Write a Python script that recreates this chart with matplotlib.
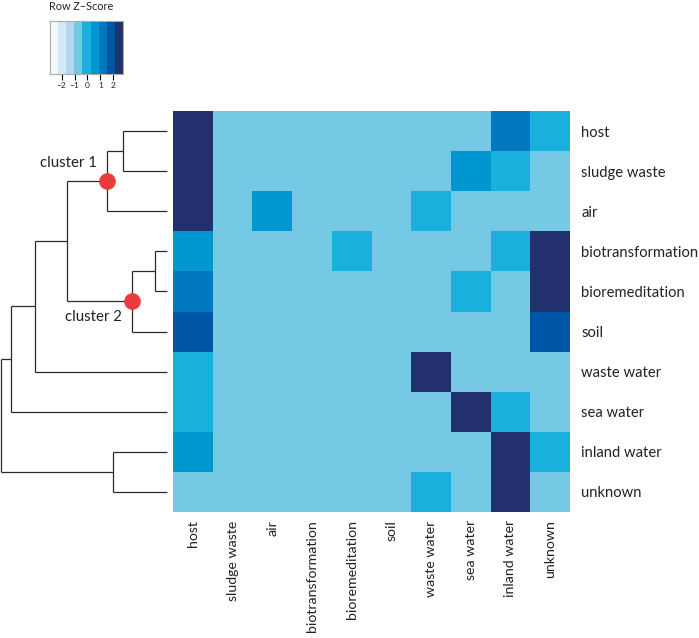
import numpy as np
import matplotlib
matplotlib.use("Agg")
import matplotlib.pyplot as plt
from matplotlib.colors import ListedColormap, BoundaryNorm

plt.rcParams['font.family'] = ['Lato', 'DejaVu Sans']

row_labels = ["host", "sludge waste", "air", "biotransformation", "bioremeditation",
              "soil", "waste water", "sea water", "inland water", "unknown"]
col_labels = ["host", "sludge waste", "air", "biotransformation", "bioremeditation",
              "soil", "waste water", "sea water", "inland water", "unknown"]

z_host          = [2.5, -0.6, -0.6, -0.6, -0.6, -0.6, -0.6, -0.6, 1.2, -0.1]
z_sludge        = [2.5, -0.6, -0.6, -0.6, -0.6, -0.6, -0.6, 0.5, -0.1, -0.6]
z_air           = [2.5, -0.6, 0.5, -0.6, -0.6, -0.6, -0.1, -0.6, -0.6, -0.6]
z_biotrans      = [0.5, -0.6, -0.6, -0.6, -0.1, -0.6, -0.6, -0.6, -0.1, 2.5]
z_biorem        = [1.2, -0.6, -0.6, -0.6, -0.6, -0.6, -0.6, -0.1, -0.6, 2.5]
z_soil          = [1.8, -0.6, -0.6, -0.6, -0.6, -0.6, -0.6, -0.6, -0.6, 1.8]
z_waste_water   = [-0.1, -0.6, -0.6, -0.6, -0.6, -0.6, 2.5, -0.6, -0.6, -0.6]
z_sea_water     = [-0.1, -0.6, -0.6, -0.6, -0.6, -0.6, -0.6, 2.5, -0.1, -0.6]
z_inland_water  = [0.5, -0.6, -0.6, -0.6, -0.6, -0.6, -0.6, -0.6, 2.5, -0.1]
z_unknown       = [-0.6, -0.6, -0.6, -0.6, -0.6, -0.6, -0.1, -0.6, 2.5, -0.6]

Z = np.array([z_host, z_sludge, z_air, z_biotrans, z_biorem, z_soil,
              z_waste_water, z_sea_water, z_inland_water, z_unknown])

key_colors = ['#f3f9fd', '#d4e9f7', '#b4d7ef', '#76c9e5', '#1ab0de',
              '#0096d0', '#0077bf', '#0056a6', '#22306e']
key_min, key_max = -2.9, 2.75
key_ticks = [-2, -1, 0, 1, 2]

# Row dendrogram merges: (child_a, child_b, height); leaves 0..9, new nodes 10..
merges = [(0, 1, 43.7), (10, 2, 59.7), (3, 4, 12.0), (12, 5, 34.7),
          (11, 13, 99.7), (14, 6, 132.3), (15, 7, 156.3), (8, 9, 54.3),
          (16, 17, 166.0)]
cluster_nodes = {11: "cluster 1", 13: "cluster 2"}

W, H = 699, 638
fig = plt.figure(figsize=(W / 100, H / 100), dpi=100)

def rect(x0, y0, x1, y1):
    return [x0 / W, 1 - y1 / H, (x1 - x0) / W, (y1 - y0) / H]

bounds = np.linspace(key_min, key_max, len(key_colors) + 1)
cmap = ListedColormap(key_colors)
norm = BoundaryNorm(bounds, cmap.N)

# heatmap
ax = fig.add_axes(rect(173, 111, 570, 512))
n = len(row_labels)
ax.pcolormesh(np.arange(n + 1), np.arange(n + 1), Z, cmap=cmap, norm=norm)
ax.set_xlim(0, n)
ax.set_ylim(n, 0)
for s in ax.spines.values():
    s.set_visible(False)
ax.set_xticks(np.arange(n) + 0.5)
ax.set_xticklabels(col_labels, rotation=90, fontsize=10.2, color='#222222')
ax.set_yticks(np.arange(n) + 0.5)
ax.set_yticklabels(row_labels, fontsize=10.6, color='#222222')
ax.yaxis.tick_right()
ax.tick_params(length=0, pad=8)
ax.tick_params(axis='x', pad=6)

# dendrogram
dax = fig.add_axes(rect(0, 111, 173, 512))
dax.set_xlim(167, -6)
dax.set_ylim(n, 0)
dax.axis('off')
pos = {i: (0.0, i + 0.5) for i in range(n)}
lc = '#2a2a2a'
for k, (a, b, h) in enumerate(merges):
    ha_, ya = pos[a]
    hb, yb = pos[b]
    dax.plot([ha_, h], [ya, ya], color=lc, lw=0.9, solid_capstyle='butt')
    dax.plot([hb, h], [yb, yb], color=lc, lw=0.9, solid_capstyle='butt')
    dax.plot([h, h], [ya, yb], color=lc, lw=0.9, solid_capstyle='butt')
    pos[n + k] = (h, (ya + yb) / 2)
for node, lab in cluster_nodes.items():
    h, y = pos[node]
    dax.plot([h], [y], 'o', color='#ec3b3f', markersize=11, zorder=5)
    if node == 11:
        dax.text(h + 10, y - 0.45, lab, ha='right', va='center', fontsize=10.8, color='#222222')
    else:
        dax.text(h + 10, y + 0.38, lab, ha='right', va='center', fontsize=10.8, color='#222222')

# colour key
kax = fig.add_axes(rect(50, 21, 123, 74))
kax.pcolormesh(bounds, [0, 1], np.array([(bounds[:-1] + bounds[1:]) / 2]), cmap=cmap, norm=norm)
kax.set_xlim(key_min, key_max)
kax.set_ylim(0, 1)
kax.set_yticks([])
kax.set_xticks(key_ticks)
kax.set_xticklabels(['\u22122', '\u22121', '0', '1', '2'], fontsize=6, color='#222222')
kax.tick_params(axis='x', length=4, width=0.8, pad=2)
for s in kax.spines.values():
    s.set_color('#aaaaaa')
    s.set_linewidth(0.8)
fig.text(81 / W, 1 - 6 / H, "Row Z\u2212Score", ha='center', va='center', fontsize=7.8, color='#222222')

fig.savefig("out.png", dpi=100)
